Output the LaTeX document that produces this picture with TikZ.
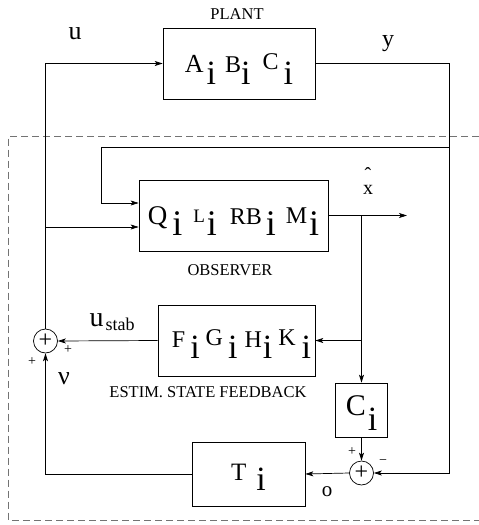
\documentclass[tikz,border=0pt]{standalone}
\usepackage{fontspec}
\setmainfont{Liberation Serif}
\usetikzlibrary{arrows.meta}
\newcommand{\ix}[2][34]{\raisebox{-#2}{\fontsize{#1}{#1}\selectfont i}}
\newcommand{\fs}[2]{{\fontsize{#1}{#1}\selectfont #2}}
\tikzset{
  blk/.style={draw,line width=0.7pt,inner sep=0pt},
  summ/.style={draw,circle,line width=0.7pt,minimum size=24pt,inner sep=0pt,
    font=\fontsize{24}{24}\selectfont},
  blklabel/.style={font=\fontsize{16.5}{18}\selectfont},
  sig/.style={font=\fontsize{22}{24}\selectfont,inner sep=0pt},
  sgn/.style={font=\fontsize{14}{14}\selectfont,inner sep=0pt},
  wire/.style={line width=0.7pt,-{Stealth[length=8pt,width=5pt,inset=2pt]}}
}
\begin{document}
\begin{tikzpicture}[x=1pt,y=-1pt]
\useasboundingbox (0,0) rectangle (479,525);
% estimator frame
\draw[black!55,line width=0.8pt,dash pattern=on 7pt off 4pt] (479,136) -- (8.5,136) -- (8.5,520) -- (479,520);

\node[blk,minimum width=152pt,minimum height=71pt,text height=29pt,text depth=12pt,
  font=\fontsize{24}{24}\selectfont] (plant) at (239,63.5)
  {\fs{26}{A}\hspace{3pt}\ix{12pt}\hspace{9pt}B\ix{12pt}\hspace{12pt}\raisebox{3pt}{C}\hspace{5pt}\ix{12pt}};
\node[blk,minimum width=189pt,minimum height=71pt,text height=28pt,text depth=11pt,
  font=\fontsize{24}{24}\selectfont] (obs) at (233.5,215.5)
  {\fs{27}{Q}\hspace{5pt}\ix[36]{11pt}\hspace{11pt}\raisebox{2pt}{\fs{19}{L}}\hspace{2pt}\ix[36]{11pt}\hspace{13pt}RB\hspace{4pt}\ix[36]{11pt}\hspace{10pt}\raisebox{1pt}{M}\hspace{2pt}\ix[36]{11pt}};
\node[blk,minimum width=157pt,minimum height=71pt,text height=24pt,text depth=11pt,
  font=\fontsize{24}{24}\selectfont] (fb) at (236.5,340.5)
  {\hspace*{10pt}F\hspace{5pt}\ix{11pt}\hspace{6pt}\raisebox{2pt}{G}\hspace{5pt}\ix{11pt}\hspace{7pt}H\hspace{1pt}\ix{11pt}\hspace{6pt}\raisebox{2pt}{K}\hspace{6pt}\ix{11pt}};
\node[blk,minimum width=52pt,minimum height=54pt,text height=25pt,text depth=15pt,
  font=\fontsize{30}{30}\selectfont] (cbox) at (361.5,410) {C\hspace{2pt}\ix{15pt}};
\node[blk,minimum width=113pt,minimum height=64pt,text height=22pt,text depth=10pt,
  font=\fontsize{25}{26}\selectfont] (tbox) at (248.5,474) {T\hspace{10pt}\ix{10pt}};

\node[summ] (sum1) at (45.5,341) {+};
\node[summ] (sum2) at (361.5,473) {+};

\node[blklabel] (plantlbl) at (237,14) {PLANT};
\node[blklabel] (obslbl) at (230,270) {OBSERVER};
\node[blklabel] (fblbl) at (208,392) {ESTIM. STATE FEEDBACK};

\node[sig,font=\fontsize{26}{26}\selectfont] (ulbl) at (75,34) {u};
\node[sig,font=\fontsize{24}{24}\selectfont] (ylbl) at (388,44) {y};
\node[sig,font=\fontsize{20}{20}\selectfont] (xhat) at (368,181)
  {\makebox[0pt][l]{\makebox[10pt]{\raisebox{13pt}{\char"02C6}}}x};
\node[sig,font=\fontsize{28}{28}\selectfont] (ustab) at (112,322) {u\hspace{2pt}\raisebox{-4pt}{\fs{18}{stab}}};
\node[sig,font=\fontsize{26}{26}\selectfont] (nu) at (64,379) {ν};
\node[sig,font=\fontsize{21}{21}\selectfont] (olbl) at (327,492) {o};

\node[sgn] (p1) at (68,350) {+};
\node[sgn] (p2) at (32,362) {+};
\node[sgn] (p3) at (352,452) {+};
\node[sgn] (m1) at (383,462) {\textminus};

\coordinate (utap) at (45.5,227);
\coordinate (ycnr) at (449,473);
\coordinate (ytap) at (449,147);
\coordinate (ybend) at (101,147);
\coordinate (xtap) at (361.5,215.5);
\coordinate (xout) at (407,215.5);

\draw[wire] (sum1.north) |- (plant.west);
\draw[wire] (utap) -- (utap -| obs.west);
\draw[wire] (plant.east) -| (ycnr) -- (sum2.east);
\draw[wire] (ytap) -- (ybend) |- ([yshift=12.5pt]obs.west);
\draw[wire] (obs.east) -- (xout);
\draw[wire] (xtap) |- (fb.east);
\draw[wire] (xtap) -- (cbox.north);
\draw[wire] (cbox.south) -- (sum2.north);
\draw[wire] (sum2.west) -- (tbox.east);
\draw[wire] (tbox.west) -| (sum1.south);
\draw[wire] (fb.west) -- (sum1.east);
\end{tikzpicture}
\end{document}
